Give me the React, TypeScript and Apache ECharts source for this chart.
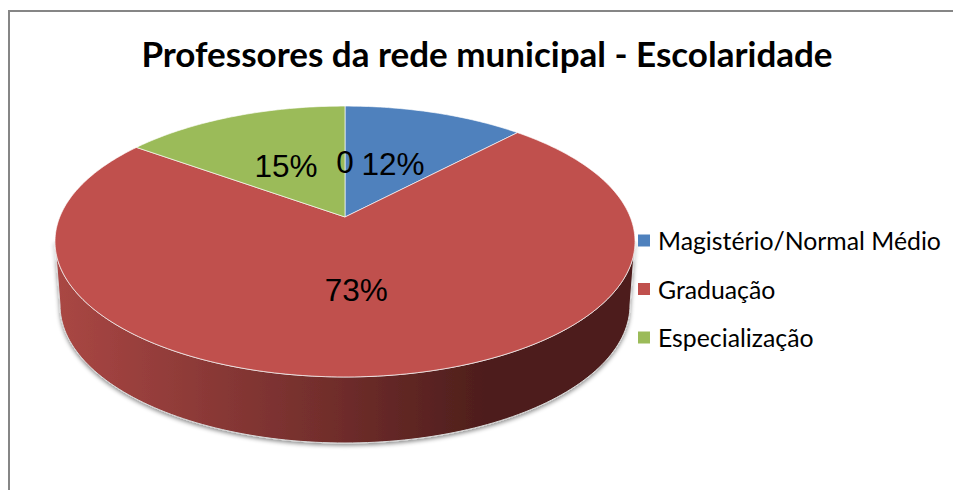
import React, { useEffect, useRef } from "react";
import * as echarts from "echarts";

const chartTitle = "Professores da rede municipal - Escolaridade";
const categories = ["Magistério/Normal Médio", "Graduação", "Especialização"];
const sliceValues = [12, 73, 15];
const sliceColors = ["#4F81BD", "#C0504D", "#9BBB59"];
// The fourth point has no legend entry: the source only shows its label, "0".
const labelValues = [12, 73, 15, 0];
const labelTexts = ["12%", "73%", "15%", "0"];

const W = 953;
const H = 490;
const total = sliceValues.reduce((a, b) => a + b, 0);
const LABEL_NUDGE = [[-0.5, 3], [-3.5, 1], [1, 3], [0, 5]];

// Perspective disc: maps a point of the unit circle onto the page
const CX = 345;
const APEX_Y = 217;
const A = 285.2;
const B = 131;
const K = 0.181;
const project = (theta: number, r = 1): [number, number] => {
  const u = r * Math.sin(theta);
  const v = r * Math.cos(theta);
  const d = 1 + K * v;
  return [CX + (A * u) / d, APEX_Y - (B * v) / d];
};
const toAngle = (value: number) => (value / total) * Math.PI * 2;

const startOf = (i: number) => toAngle(sliceValues.slice(0, i).reduce((a, b) => a + b, 0));

const slicePoints = (start: number, end: number) => {
  const pts: [number, number][] = [[CX, APEX_Y]];
  const steps = Math.max(8, Math.ceil((end - start) * 60));
  for (let i = 0; i <= steps; i++) pts.push(project(start + ((end - start) * i) / steps));
  return pts;
};

// Rim: the visible side of the disc
const LOW_CY = 305;
const LOW_RX = 285;
const LOW_RY = 138;
const wallPoints = () => {
  const pts: [number, number][] = [];
  const right = Math.PI / 2 + Math.asin(K);
  const left = (3 * Math.PI) / 2 - Math.asin(K);
  for (let i = 0; i <= 120; i++) pts.push(project(right + ((left - right) * i) / 120));
  for (let i = 0; i <= 120; i++) {
    const t = Math.PI + (Math.PI * i) / 120;
    pts.push([CX + LOW_RX * Math.cos(t), LOW_CY - LOW_RY * Math.sin(t)]);
  }
  return pts;
};

const wallSeries = {
  type: "custom",
  coordinateSystem: "none",
  silent: true,
  z: 1,
  data: [[0]],
  renderItem: () => ({
    type: "polygon",
    shape: { points: wallPoints() },
    style: {
      fill: new echarts.graphic.LinearGradient(0, 0, 1, 0, [
        { offset: 0, color: "#AA4744" },
        { offset: 0.5, color: "#6E2C2A" },
        { offset: 0.74, color: "#4E1E1C" },
        { offset: 1, color: "#4D1E1C" },
      ]),
      stroke: "#D9D9D9",
      lineWidth: 1,
      shadowBlur: 4,
      shadowColor: "rgba(0,0,0,0.45)",
      shadowOffsetY: 2,
    },
  }),
};

const sliceSeries = categories.map((name, i) => ({
  type: "custom",
  name,
  coordinateSystem: "none",
  silent: true,
  z: 2,
  itemStyle: { color: sliceColors[i] },
  data: [[sliceValues[i]]],
  renderItem: (_p: any, api: any) => {
    const start = startOf(i);
    const end = start + toAngle(api.value(0));
    return {
      type: "polygon",
      shape: { points: slicePoints(start, end) },
      style: { fill: sliceColors[i], stroke: "rgba(255,255,255,0.65)", lineWidth: 1 },
    };
  },
}));

const labelSeries = {
  type: "custom",
  coordinateSystem: "none",
  silent: true,
  z: 3,
  data: labelValues.map((v) => [v]),
  renderItem: (p: any, api: any) => {
    const i = p.dataIndex;
    const start = i < sliceValues.length ? startOf(i) : 0;
    const mid = start + toAngle(api.value(0)) / 2;
    const [x, y] = project(mid, 0.5);
    return {
      type: "text",
      x: x + LABEL_NUDGE[i][0],
      y: y + LABEL_NUDGE[i][1],
      style: {
        text: labelTexts[i],
        fill: "#000",
        font: '31.5px "Liberation Sans"',
        align: "center",
        verticalAlign: "middle",
      },
    };
  },
};

export default function App() {
  const ref = useRef<HTMLDivElement>(null);
  useEffect(() => {
    const chart = echarts.init(ref.current!, null, { renderer: "svg" });
    chart.setOption({
      animation: false,
      backgroundColor: "#fff",
      title: {
        text: chartTitle,
        left: 482,
        top: 30,
        textAlign: "center",
        textStyle: { fontFamily: "Lato", fontWeight: "bold", fontSize: 35, color: "#000" },
      },
      legend: {
        orient: "vertical",
        left: 638,
        top: 228,
        padding: 0,
        itemWidth: 12,
        itemHeight: 12,
        itemGap: 23.5,
        icon: "rect",
        selectedMode: false,
        data: categories,
        textStyle: { fontFamily: "Lato", fontSize: 24.8, color: "#000", padding: [0, 0, 0, 3] },
      },
      graphic: [
        { type: "line", shape: { x1: 9, y1: 11, x2: W, y2: 11 }, style: { stroke: "#868686", lineWidth: 2 } },
        { type: "line", shape: { x1: 9, y1: 10, x2: 9, y2: H }, style: { stroke: "#868686", lineWidth: 2 } },
      ],
      series: [wallSeries, ...sliceSeries, labelSeries],
    });
    return () => chart.dispose();
  }, []);
  return <div ref={ref} style={{ position: "fixed", left: 0, top: 0, width: W, height: H }} />;
}
